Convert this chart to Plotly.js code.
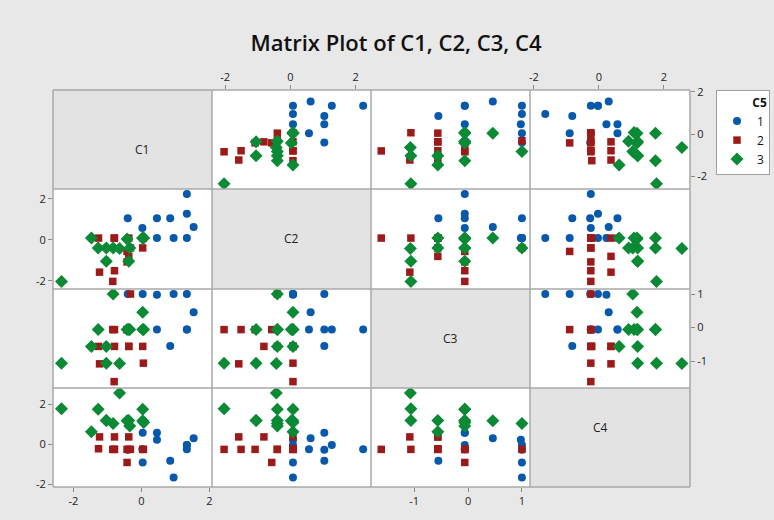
<!DOCTYPE html>
<html><head><meta charset="utf-8">
<script src="https://cdn.plot.ly/plotly-3.0.1.min.js"></script>
<style>html,body{margin:0;padding:0;background:#fff}#chart{width:774px;height:520px}</style>
</head><body><div id="chart"></div>
<script>
// Data: one entry per observation (group 1, then group 2, then group 3)
const C1 = [1.54,1.34,1.34,1.34,0.95,0.85,0.46,0.46,0.03,0.04,0.04,-0.40,
            -1.26,-0.79,-0.37,0.04,-0.32,-0.42,-0.37,-0.42,-1.23,-0.79,-0.84,0.06,-0.80,
            -2.35,-1.47,-1.27,-1.03,-1.03,-0.83,-0.64,-0.42,-0.34,-0.37,0.04,0.04,0.07];
const C2 = [0.62,2.23,1.27,0.08,0.08,1.04,1.04,0.08,0.57,0.08,0.08,1.04,
            0.08,0.08,0.08,-0.40,-0.40,-0.57,-0.81,-1.08,-1.58,-1.51,-2.03,0.08,0.08,
            -2.03,0.08,-0.40,-0.40,-1.05,-0.40,-0.43,0.03,-0.40,-1.05,0.08,0.08,0.08];
const C3 = [0.46,-0.06,-0.06,1.00,1.00,-0.55,-0.06,0.98,-0.06,1.00,-0.06,1.00,
            -0.56,-0.56,-0.56,-0.56,1.00,-0.06,-0.56,-0.06,-1.08,-0.06,-0.06,-1.06,-1.61,
            -1.06,-0.56,-0.06,-0.56,-1.06,1.00,-1.07,-0.06,-0.06,-0.06,-0.06,0.46,-0.06];
const C4 = [0.30,-0.25,-0.03,-0.03,-1.65,-0.82,0.57,0.23,-0.25,-0.90,0.57,-0.27,
            -0.22,0.37,-0.25,-0.25,-0.25,-0.90,0.37,-0.25,0.37,-0.25,-0.25,-0.25,-0.25,
            1.77,0.62,1.74,1.19,1.19,1.04,2.55,1.17,0.91,1.19,1.74,1.17,1.08];
const C5 = [1,1,1,1,1,1,1,1,1,1,1,1,
            2,2,2,2,2,2,2,2,2,2,2,2,2,
            3,3,3,3,3,3,3,3,3,3,3,3,3];
const groupLabels = ['1','2','3'];
const varNames = ['C1','C2','C3','C4'];
const tickVals = [[-2,0,2],[-2,0,2],[-1,0,1],[-2,0,2]];
const tickTexts = [['-2','0','2'],['-2','0','2'],['-1','0','1'],['-2','0','2']];

const vars = [C1,C2,C3,C4];
const ranges = [[-2.6,2.08],[-2.4,2.47],[-1.8,1.15],[-2.12,2.8]];
const styles = [
  {symbol:'circle', size:8, color:'#0858ac'},
  {symbol:'square', size:7.5, color:'#9c1a1a'},
  {symbol:'diamond', size:10, color:'#0b8a35'}
];

const W=774, H=520;
const colEdges=[53,212,371,530,690];
const rowEdges=[90,189,289,388,487];
const font = 'Open Sans, Noto Sans, DejaVu Sans, sans-serif';

const layout = {
  width:W, height:H, margin:{l:0,r:0,t:0,b:0},
  paper_bgcolor:'#e8e8e8', plot_bgcolor:'#ffffff',
  font:{family:font, size:11, color:'#222'},
  title:{text:'Matrix Plot of C1, C2, C3, C4', x:396/W, y:1-43/H, xanchor:'center', yanchor:'middle',
         font:{family:font, size:22, color:'#111', weight:600}},
  showlegend:true,
  legend:{x:716/W, y:1-90/H, xanchor:'left', yanchor:'top', bgcolor:'#ffffff',
          bordercolor:'#a0a0a0', borderwidth:1, font:{size:12, color:'#111'},
          title:{text:'<b>C5</b>', side:'top right', font:{size:12}}, itemwidth:30, tracegroupgap:0},
  shapes:[], annotations:[]
};
const traces = [];
let k = 0;
for (let r=0;r<4;r++){
  for (let c=0;c<4;c++){
    const x0=colEdges[c], x1=colEdges[c+1], y0=rowEdges[r], y1=rowEdges[r+1];
    if (r===c){
      layout.shapes.push({type:'rect', xref:'paper', yref:'paper', x0:x0/W, x1:x1/W, y0:1-y1/H, y1:1-y0/H,
        fillcolor:'#e3e3e3', line:{width:0}, layer:'below'});
      layout.annotations.push({xref:'paper', yref:'paper', x:(x0+x1)/2/W, y:1-(y0+y1)/2/H,
        text:varNames[r], showarrow:false, font:{size:12, color:'#222'}});
      continue;
    }
    k++;
    const xa = 'xaxis'+(k===1?'':k), ya='yaxis'+(k===1?'':k);
    const xs = 'x'+(k===1?'':k), ys='y'+(k===1?'':k);
    const showX = (c%2===0 && r===3) || (c%2===1 && r===0);
    const showY = (r%2===1 && c===0) || (r%2===0 && c===3);
    layout[xa] = {domain:[x0/W, x1/W], anchor:ys, range:ranges[c], showgrid:false, zeroline:false,
      showline:false, showticklabels:showX, ticks:showX?'outside':'', ticklen:4, tickcolor:'#8a8a8a',
      tickmode:'array', tickvals:tickVals[c], ticktext:tickTexts[c], side:(c%2===1)?'top':'bottom',
      fixedrange:true, tickfont:{size:11,color:'#222'}};
    layout[ya] = {domain:[1-y1/H, 1-y0/H], anchor:xs, range:ranges[r], showgrid:false, zeroline:false,
      showline:false, showticklabels:showY, ticks:showY?'outside':'', ticklen:4, tickcolor:'#8a8a8a',
      tickmode:'array', tickvals:tickVals[r], ticktext:tickTexts[r], side:(r%2===0)?'right':'left',
      fixedrange:true, tickfont:{size:11,color:'#222'}};
    for (let g=0; g<3; g++){
      const xv=[], yv=[];
      for (let i=0;i<C5.length;i++){ if (C5[i]===g+1){ xv.push(vars[c][i]); yv.push(vars[r][i]); } }
      traces.push({type:'scatter', mode:'markers', x:xv, y:yv, xaxis:xs, yaxis:ys,
        name:groupLabels[g], legendgroup:groupLabels[g], showlegend:(k===1),
        marker:{symbol:styles[g].symbol, size:styles[g].size, color:styles[g].color, line:{width:0}},
        hoverinfo:'skip'});
    }
  }
}
// panel frame lines
const lc = '#a9a9a9';
colEdges.forEach(x=>layout.shapes.push({type:'line', xref:'paper', yref:'paper', x0:x/W, x1:x/W,
  y0:1-rowEdges[4]/H, y1:1-rowEdges[0]/H, line:{color:lc, width:1.5}}));
rowEdges.forEach(y=>layout.shapes.push({type:'line', xref:'paper', yref:'paper', x0:colEdges[0]/W, x1:colEdges[4]/W,
  y0:1-y/H, y1:1-y/H, line:{color:lc, width:1.5}}));

Plotly.newPlot('chart', traces, layout, {displayModeBar:false, staticPlot:true});
</script></body></html>
